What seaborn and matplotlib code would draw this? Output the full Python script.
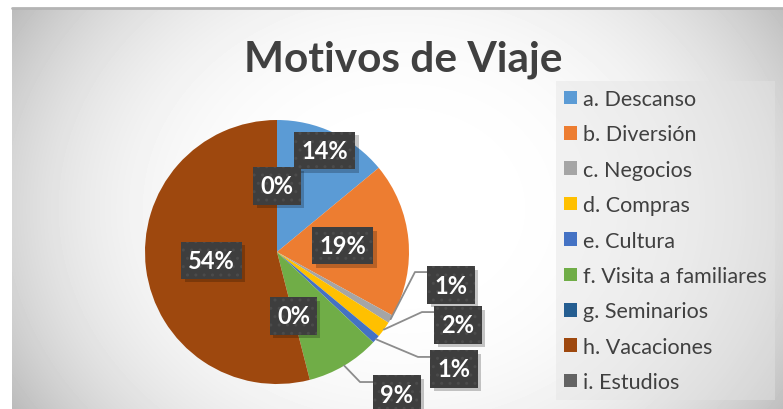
import numpy as np
import matplotlib.pyplot as plt
from matplotlib.patches import Patch
import matplotlib.patheffects as pe
import seaborn as sns

# datos
motivos = ["a. Descanso", "b. Diversión", "c. Negocios", "d. Compras", "e. Cultura",
           "f. Visita a familiares", "g. Seminarios", "h. Vacaciones", "i. Estudios"]
porcentajes = [14, 19, 1, 2, 1, 9, 0, 54, 0]

colores = sns.color_palette(["#5B9BD5", "#ED7D31", "#A5A5A5", "#FFC000", "#4472C4",
                             "#70AD47", "#255E91", "#9E480E", "#636363"])

sns.set_style("white")
plt.rcParams["font.family"] = ["Lato", "DejaVu Sans"]


# sombra de la caja sin la trama de puntos
class Sombra(pe.SimplePatchShadow):
    def draw_path(self, renderer, gc, tpath, affine, rgbFace):
        gc0 = renderer.new_gc()
        gc0.copy_properties(gc)
        gc0.set_hatch(None)
        super().draw_path(renderer, gc0, tpath, affine, rgbFace)
        gc0.restore()


W, H = 783, 410
fig = plt.figure(figsize=(W / 100, H / 100), dpi=100)

# fondo con degradado radial (estilo Excel)
bg = fig.add_axes([12 / W, 0, 1 - 12 / W, 401 / H])
yy, xx = np.mgrid[0:401, 0:771]
d = np.hypot((xx - 390) / 390, (yy - 200) / 320)
shade = 1 - 0.158 * d ** 3.2
bg.imshow(shade, cmap="gray", vmin=0, vmax=1, aspect="auto", interpolation="bilinear")
bg.axis("off")
fig.add_artist(plt.Line2D([12 / W, 1], [401 / H, 401 / H], color="#b4b4b4", lw=2))

# pastel: centro (277, 253) px, radio 132 px
cx, cy, r = 277, 253, 132
ax = fig.add_axes([(cx - r) / W, (H - cy - r) / H, 2 * r / W, 2 * r / H])
wedges, _ = ax.pie(porcentajes, colors=colores, startangle=90, counterclock=False,
                   radius=1, wedgeprops=dict(linewidth=0))
ax.set_xlim(-1, 1)
ax.set_ylim(-1, 1)
ax.axis("off")

# posicion de etiquetas: distancia radial (dentro) o (texto, codo) fuera
dist_dentro = {0: 0.85, 1: 0.5, 6: 0.5, 7: 0.5, 8: 0.5}
fuera = {
    2: ((1.318, -0.25), (1.045, -0.152)),
    3: ((1.371, -0.553), (1.098, -0.455)),
    4: ((1.341, -0.886), (1.068, -0.795)),
    5: ((0.909, -1.076), (0.629, -0.985)),
}

caja = dict(boxstyle="square,pad=0.3", facecolor="#3e3e3e", edgecolor="#4b4b4b",
            hatch="..", linewidth=0)

for i, (w, v) in enumerate(zip(wedges, porcentajes)):
    ang = np.deg2rad((w.theta1 + w.theta2) / 2)
    if i in dist_dentro:
        tx = dist_dentro[i] * np.cos(ang)
        ty = dist_dentro[i] * np.sin(ang)
    else:
        (tx, ty), (kx, ky) = fuera[i]
        ex, ey = np.cos(ang), np.sin(ang)
        ax.plot([ex, kx, tx], [ey, ky, ky], color="#8c8c8c", lw=1.3,
                clip_on=False, zorder=3)
    t = ax.text(tx, ty, f"{v}%", ha="center", va="center", fontsize=17,
                fontweight="bold", color="white", bbox=caja, zorder=5)
    t.get_bbox_patch().set_path_effects(
        [Sombra(offset=(2.5, -2.5), shadow_rgbFace="black", alpha=0.22), pe.Normal()])

# titulo
fig.text(403.5 / W, 1 - 71.7 / H, "Motivos de Viaje", ha="center", va="baseline",
         fontsize=30.5, fontweight="bold", color="#404040")

# leyenda
handles = [Patch(facecolor=c, edgecolor="none") for c in colores]
leg = fig.legend(handles, motivos, loc="upper left", bbox_to_anchor=(556 / W, 1 - 82 / H),
                 borderaxespad=0, frameon=True, fancybox=False, fontsize=15.5,
                 handlelength=0.6, handleheight=0.6, handletextpad=0.3,
                 labelspacing=0.715, borderpad=0.37)
leg.get_frame().set_facecolor("#e4e4e4")
leg.get_frame().set_edgecolor("none")
leg.get_frame().set_alpha(0.45)
for t in leg.get_texts():
    t.set_color("#404040")

fig.savefig("out.png", dpi=100)
